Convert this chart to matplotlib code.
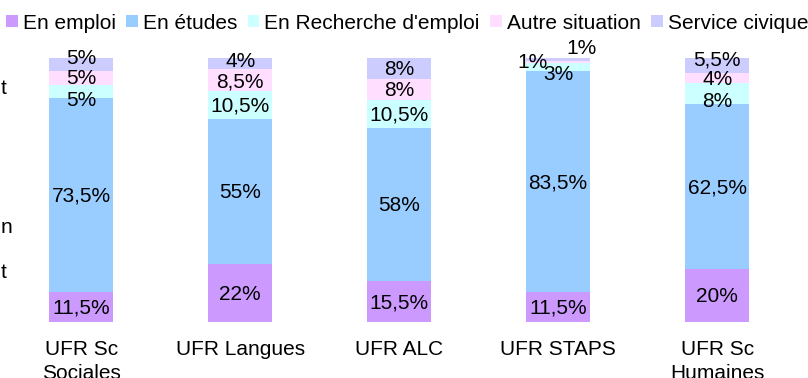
import numpy as np
import matplotlib.pyplot as plt

plt.rcParams['font.family'] = ['Liberation Sans', 'DejaVu Sans']

categories = ["UFR Sc\nSociales", "UFR Langues", "UFR ALC", "UFR STAPS", "UFR Sc\nHumaines"]
series = ["En emploi", "En études", "En Recherche d'emploi", "Autre situation", "Service civique"]
en_emploi = [11.5, 22, 15.5, 11.5, 20]
en_etudes = [73.5, 55, 58, 83.5, 62.5]
en_recherche = [5, 10.5, 10.5, 3, 8]
autre = [5, 8.5, 8, 1, 4]
service = [5, 4, 8, 1, 5.5]
colors = ["#CC99FF", "#99CCFF", "#CCFFFF", "#FFDEFF", "#CCCCFF"]

# label nudges in pixels (dx, dy down) for crowded segments: (bar, series)
nudge = {
    (0, 2): (0, 9), (0, 3): (0, 0), (0, 4): (0, -6.5),
    (1, 3): (0, 2), (1, 4): (0, -2),
    (3, 2): (0, 7), (3, 3): (-26, 0), (3, 4): (23, -11),
    (4, 2): (0, 8), (4, 3): (0, 1.5), (4, 4): (0, -5.5),
}


def fmt(v):
    return ("%g" % v).replace(".", ",") + "%"


fig = plt.figure(figsize=(8.08, 3.78), dpi=100)
ax = fig.add_axes([0.002, 0.148, 0.984, 0.698])

x = np.arange(len(categories))
data = [en_emploi, en_etudes, en_recherche, autre, service]
bottom = np.zeros(len(categories))
for j, (name, vals, col) in enumerate(zip(series, data, colors)):
    vals = np.array(vals, dtype=float)
    ax.bar(x, vals, 0.4, bottom=bottom, color=col, label=name)
    for i, v in enumerate(vals):
        dx, dy = nudge.get((i, j), (0, 1))
        ax.annotate(fmt(v), (x[i], bottom[i] + v / 2), xytext=(dx * 0.72, -dy * 0.72),
                    textcoords="offset points", ha="center", va="center",
                    fontsize=15, color="#000000")
    bottom += vals

ax.set_xlim(-0.5, 4.5)
ax.set_ylim(0, 100)
ax.set_xticks(x)
ax.set_xticklabels(categories, fontsize=15, linespacing=1.3)
ax.tick_params(axis="x", length=0, pad=13)
ax.set_yticks([])
for s in ax.spines.values():
    s.set_visible(False)

fig.legend(loc="center", bbox_to_anchor=(0.504, 0.939), ncol=5, frameon=False,
           fontsize=15, handlelength=0.55, handleheight=0.55, handletextpad=0.25,
           columnspacing=0.5, borderaxespad=0, borderpad=0)

# cut-off text at the left edge
for yy, t in [(0.767, "t"), (0.397, "n"), (0.28, "t")]:
    fig.text(0.001, yy, t, fontsize=15, va="center", ha="left")

fig.savefig("out.png", dpi=100)
